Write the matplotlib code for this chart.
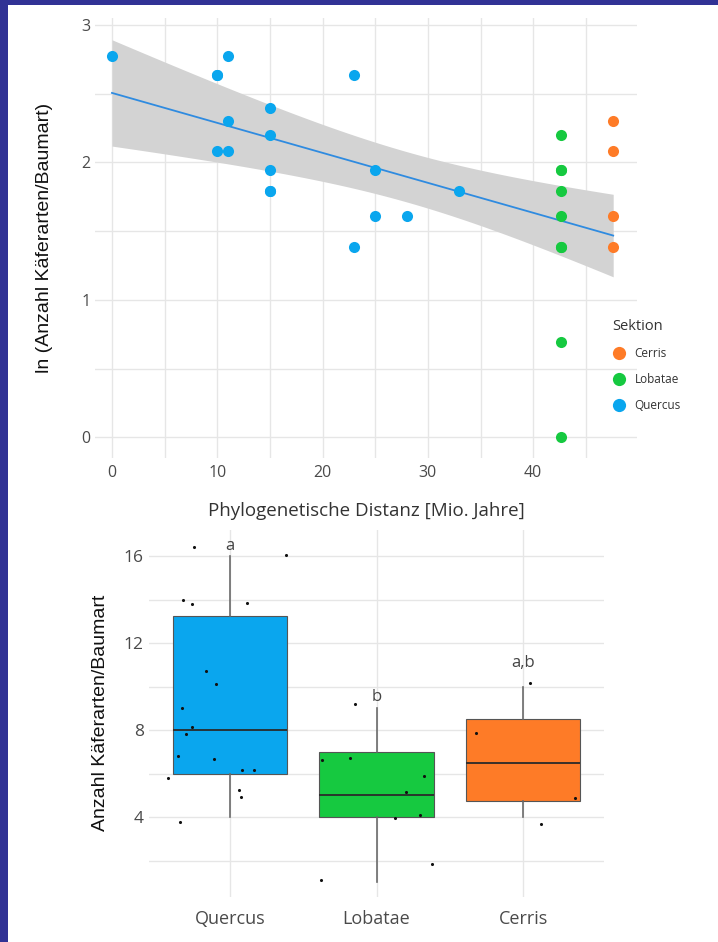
import numpy as np
import matplotlib
matplotlib.use("Agg")
import matplotlib.pyplot as plt
from matplotlib.patches import Rectangle
from matplotlib.lines import Line2D

# ---------------- data: species counts per tree species, by section
# (top panel: ln(count) vs phylogenetic distance; bottom: boxplot of counts)
quercus_x = [0, 10, 11, 11, 10, 11, 15, 15, 15, 15, 23, 23, 25, 25, 28, 33, 10, 15]
quercus_n = [16, 14, 16, 10, 8, 8, 11, 9, 7, 6, 14, 4, 7, 5, 5, 6, 14, 6]
lobatae_x = [42.6, 42.6, 42.6, 42.6, 42.6, 42.6, 42.6, 42.6, 42.6]
lobatae_n = [9, 7, 7, 6, 5, 4, 4, 2, 1]
cerris_x = [47.6, 47.6, 47.6, 47.6]
cerris_n = [10, 8, 5, 4]

categories = ["Quercus", "Lobatae", "Cerris"]
letters = ["a", "b", "a,b"]
letter_y = [16.45, 9.5, 11.1]

# jittered dots of the bottom panel (offset from category centre, jittered value)
q_dot_off = [-0.244, 0.380, -0.319, -0.261, 0.114, -0.166, -0.098, -0.326, -0.257,
             -0.302, -0.357, -0.107, 0.080, 0.166, -0.421, 0.061, 0.073, -0.341]
q_dot_y = [16.43, 16.05, 13.98, 13.79, 13.85, 10.71, 10.11, 9.02, 8.15,
           7.82, 6.80, 6.65, 6.16, 6.16, 5.78, 5.24, 4.93, 3.76]
l_dot_off = [-0.149, -0.370, -0.179, 0.322, 0.203, 0.124, 0.295, 0.379, -0.377]
l_dot_y = [9.20, 6.62, 6.70, 5.90, 5.16, 3.97, 4.09, 1.83, 1.10]
c_dot_off = [0.051, -0.319, 0.354, 0.126]
c_dot_y = [10.15, 7.85, 4.86, 3.68]

# ---------------- style
C_Q = "#0AA6EE"
C_L = "#16C940"
C_C = "#FE7B27"
C_LINE = "#2F8BE0"
GRID = "#E6E6E6"
TICK = "#4A4A4A"
BORDER = "#313295"
UI = ["Open Sans", "DejaVu Sans"]
ARIAL = ["Liberation Sans", "DejaVu Sans"]

fig = plt.figure(figsize=(7.18, 9.42), dpi=100)
fig.patch.set_facecolor("white")

# ======================= top panel
ax = fig.add_axes([95/718, 1-458/942, 542/718, 440/942])
ax.set_xlim(-1.61, 49.86)
ax.set_ylim(-0.15, 3.05)

all_x = np.array(quercus_x + lobatae_x + cerris_x, dtype=float)
all_y = np.log(np.array(quercus_n + lobatae_n + cerris_n, dtype=float))
n = len(all_x)
b, a = np.polyfit(all_x, all_y, 1)
xs = np.linspace(all_x.min(), all_x.max(), 100)
ys = a + b * xs
resid = all_y - (a + b * all_x)
s = np.sqrt(np.sum(resid**2) / (n - 2))
sxx = np.sum((all_x - all_x.mean())**2)
se = s * np.sqrt(1/n + (xs - all_x.mean())**2 / sxx)
t975 = 2.045
ax.fill_between(xs, ys - t975*se, ys + t975*se, color="#D3D3D3", lw=0, zorder=2)
ax.plot(xs, ys, color=C_LINE, lw=1.3, zorder=3)

ax.scatter(quercus_x, np.log(quercus_n), s=64, color=C_Q, lw=0, zorder=4)
ax.scatter(lobatae_x, np.log(lobatae_n), s=64, color=C_L, lw=0, zorder=4)
ax.scatter(cerris_x, np.log(cerris_n), s=64, color=C_C, lw=0, zorder=4)

ax.set_xticks([0, 10, 20, 30, 40])
ax.set_xticks([5, 15, 25, 35, 45], minor=True)
ax.set_yticks([0, 1, 2, 3])
ax.set_yticks([0.5, 1.5, 2.5], minor=True)
ax.grid(True, which="both", color=GRID, lw=1.0, zorder=0)
ax.set_axisbelow(True)
for sp in ax.spines.values():
    sp.set_visible(False)
ax.tick_params(which="both", length=0, colors=TICK, labelsize=11.5)
ax.tick_params(axis="y", pad=3)
ax.tick_params(axis="x", pad=5)
for lab in ax.get_xticklabels() + ax.get_yticklabels():
    lab.set_family(UI)
ax.set_xlabel("Phylogenetische Distanz [Mio. Jahre]", family=UI, fontsize=13.5,
              color="#333333", labelpad=15)
ax.set_ylabel("ln (Anzahl Käferarten/Baumart)", family=ARIAL, fontsize=14,
              color="#111111", labelpad=21)

handles = [Line2D([], [], marker="o", ls="", ms=9.5, color=c, mec="none")
           for c in (C_C, C_L, C_Q)]
leg = fig.legend(handles, ["Cerris", "Lobatae", "Quercus"], title="Sektion",
                 loc="upper left", bbox_to_anchor=(612/718, 1-319/942),
                 frameon=False, prop={"family": UI, "size": 8.5},
                 title_fontproperties={"family": UI, "size": 10.5},
                 handletextpad=0.7, labelspacing=1.1, borderaxespad=0,
                 handlelength=1.2, borderpad=0)
leg._legend_box.align = "left"
for t in leg.get_texts():
    t.set_color("#333333")
leg.get_title().set_color("#333333")

# ======================= bottom panel
bx = fig.add_axes([149.4/718, 1-896.6/942, 454.2/718, 366.6/942])
bx.set_xlim(0.45, 3.55)
bx.set_ylim(0.34, 17.2)
pos = np.arange(1, len(categories) + 1)
bp = bx.boxplot([quercus_n, lobatae_n, cerris_n], positions=pos, widths=0.78,
                patch_artist=True, showcaps=False, showfliers=False, whis=1.5,
                boxprops=dict(edgecolor="#555555", lw=0.8),
                medianprops=dict(color="#2A2A2A", lw=1.3),
                whiskerprops=dict(color="#6A6A6A", lw=1.2), zorder=3)
for patch, c in zip(bp["boxes"], (C_Q, C_L, C_C)):
    patch.set_facecolor(c)

for i, (off, yy) in enumerate(((q_dot_off, q_dot_y), (l_dot_off, l_dot_y), (c_dot_off, c_dot_y))):
    bx.scatter(pos[i] + np.array(off), yy, s=5, color="#111111", lw=0, zorder=5)

for i, (lt, ly) in enumerate(zip(letters, letter_y)):
    bx.text(pos[i], ly, lt, ha="center", va="center", family=UI, fontsize=12,
            color="#444444", zorder=6)

bx.set_xticks(pos)
bx.set_xticklabels(categories)
bx.set_yticks([4, 8, 12, 16])
bx.set_yticks([2, 6, 10, 14], minor=True)
bx.grid(True, which="both", color=GRID, lw=1.0, zorder=0)
bx.set_axisbelow(True)
for sp in bx.spines.values():
    sp.set_visible(False)
bx.tick_params(which="both", length=0, colors=TICK, labelsize=12.5)
bx.tick_params(axis="y", pad=4)
bx.tick_params(axis="x", pad=10, labelsize=13)
for lab in bx.get_xticklabels() + bx.get_yticklabels():
    lab.set_family(UI)
bx.set_ylabel("Anzahl Käferarten/Baumart", family=ARIAL, fontsize=14,
              color="#111111", labelpad=11)

# frame borders
fig.add_artist(Rectangle((0, 0), 8/718, 1, transform=fig.transFigure,
                         color=BORDER, lw=0, zorder=10))
fig.add_artist(Rectangle((0, 1-5/942), 1, 5/942, transform=fig.transFigure,
                         color=BORDER, lw=0, zorder=10))

fig.savefig("out.png", dpi=100, facecolor="white")
